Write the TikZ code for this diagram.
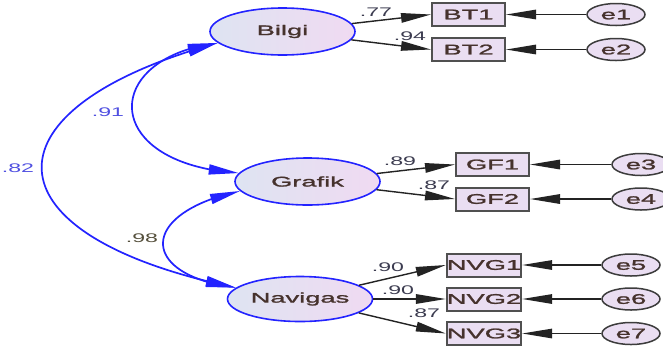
\documentclass[tikz,border=0pt]{standalone}
\usepackage{fontspec}
\setmainfont{Liberation Sans}[FakeStretch=1.85]
\newfontfamily\nodefont{Liberation Sans}[FakeStretch=1.95, FakeBold=1.6]
\usetikzlibrary{shapes.geometric,arrows.meta,bending}
\definecolor{latblue}{RGB}{35,35,255}
\definecolor{ellL}{RGB}{222,228,242}
\definecolor{ellR}{RGB}{240,218,242}
\definecolor{boxf}{RGB}{234,222,242}
\definecolor{boxd}{RGB}{80,80,80}
\definecolor{errd}{RGB}{60,60,60}
\definecolor{lined}{RGB}{35,35,35}
\definecolor{txt}{RGB}{70,50,45}
\definecolor{labc}{RGB}{60,60,80}
\definecolor{labb}{RGB}{80,80,225}
\definecolor{labo}{RGB}{85,80,60}
\begin{document}
\begin{tikzpicture}[x=1pt,y=-1pt,
  latent/.style={ellipse, draw=latblue, line width=1.6pt, left color=ellL, right color=ellR,
    minimum width=145pt, minimum height=47pt, inner sep=0pt, font=\nodefont\fontsize{14}{16}\selectfont, text=txt},
  obs/.style={rectangle, draw=boxd, line width=2pt, fill=boxf, minimum width=73pt,
    minimum height=23pt, inner sep=0pt, font=\nodefont\fontsize{14}{16}\selectfont, text=txt},
  err/.style={ellipse, draw=errd, line width=1.5pt, fill=boxf, minimum width=58pt,
    minimum height=22pt, inner sep=0pt, font=\nodefont\fontsize{14}{16}\selectfont, text=txt},
  load/.style={-{Triangle[length=30pt,width=9.5pt]}, line width=1.4pt, draw=lined},
  cov/.style={{Triangle[length=30pt,width=10pt]}-{Triangle[length=30pt,width=10pt]}, line width=1.7pt, draw=latblue},
  lab/.style={font=\fontsize{12.5}{13}\selectfont, text=labc, inner sep=0pt}
]
\useasboundingbox[fill=white] (0,0) rectangle (663,349);
\clip (0,0) rectangle (663,349);

% latent variables
\node[latent] (Bilgi) at (282.5,31.5) {Bilgi};
\node[latent] (Grafik) at (307.5,181.5) {Grafik};
\node[latent, minimum height=45pt] (Navigas) at (300,299) {Navigas};

% observed variables
\node[obs] (BT1) at (468.5,14.5) {BT1};
\node[obs] (BT2) at (468.5,49.5) {BT2};
\node[obs] (GF1) at (492.5,164.5) {GF1};
\node[obs] (GF2) at (492.5,199) {GF2};
\node[obs, minimum width=72pt] (NVG1) at (484,265) {NVG1};
\node[obs, minimum width=72pt] (NVG2) at (484,299) {NVG2};
\node[obs, minimum width=72pt] (NVG3) at (484,333.5) {NVG3};

% errors
\node[err] (e1) at (616,14.5) {e1};
\node[err] (e2) at (616,49.5) {e2};
\node[err] (e3) at (641,164.5) {e3};
\node[err] (e4) at (641,199) {e4};
\node[err] (e5) at (631,265) {e5};
\node[err] (e6) at (631,299) {e6};
\node[err] (e7) at (631,333.5) {e7};

% loadings
\draw[load] (Bilgi) -- (BT1.west);
\draw[load] (Bilgi) -- (BT2.west);
\draw[load] (Grafik) -- (GF1.west);
\draw[load] (Grafik) -- (GF2.west);
\draw[load] (Navigas) -- (NVG1.west);
\draw[load] (Navigas) -- (NVG2.west);
\draw[load] (Navigas) -- (NVG3.west);

% errors to observed
\draw[load] (e1) -- (BT1);
\draw[load] (e2) -- (BT2);
\draw[load] (e3) -- (GF1);
\draw[load] (e4) -- (GF2);
\draw[load] (e5) -- (NVG1);
\draw[load] (e6) -- (NVG2);
\draw[load] (e7) -- (NVG3);

% covariances
\draw[cov] (Bilgi.190) .. controls (100,58) and (100,164) .. (Grafik.173);
\draw[cov] (Bilgi.190) .. controls (-20,108) and (-20,235) .. (Navigas.170);
\draw[cov] (Grafik.188) .. controls (138,213) and (138,275) .. (Navigas.170);

% labels
\node[lab] (l77) at (376,12) {.77};
\node[lab] (l94) at (410,36) {.94};
\node[lab] (l89) at (400,161) {.89};
\node[lab] (l87a) at (434,185) {.87};
\node[lab] (l90a) at (388,267) {.90};
\node[lab] (l90b) at (398,290) {.90};
\node[lab] (l87b) at (424,313) {.87};
\node[lab, text=labb] (l91) at (108,112) {.91};
\node[lab, text=labb] (l82) at (18,168) {.82};
\node[lab, text=labo] (l98) at (142,238) {.98};
\end{tikzpicture}
\end{document}
